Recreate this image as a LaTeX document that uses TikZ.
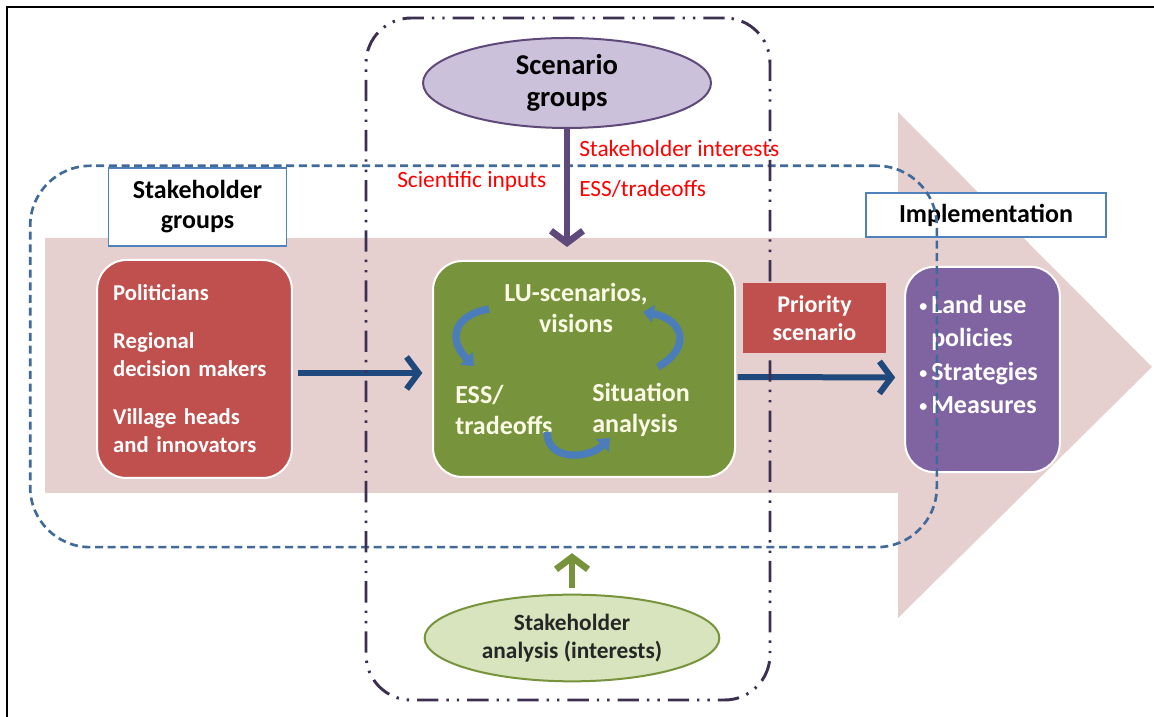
\documentclass[tikz,border=0pt]{standalone}
\usepackage{fontspec}
\setmainfont{Carlito}
\usetikzlibrary{arrows.meta,shapes.geometric,positioning}

\definecolor{redbox}{HTML}{C0504D}
\definecolor{greenbox}{HTML}{77933C}
\definecolor{purplebox}{HTML}{8064A2}
\definecolor{scenfill}{HTML}{CCC1DA}
\definecolor{scendraw}{HTML}{5F497A}
\definecolor{stafill}{HTML}{D7E4BD}
\definecolor{darkblue}{HTML}{1F497D}
\definecolor{cycblue}{HTML}{4A7DBA}
\definecolor{headblue}{HTML}{4F81BD}
\definecolor{dashblue}{HTML}{416A9A}
\definecolor{dotpurple}{HTML}{3C2F50}
\definecolor{pinkbg}{HTML}{E6CFCF}
\definecolor{creamtext}{HTML}{FAFAE6}

\newcommand{\bul}{\makebox[9pt][l]{\raisebox{1.5pt}{\fontsize{12}{12}\selectfont\textbullet}}}

\begin{document}
\begin{tikzpicture}[x=0.75pt, y=0.75pt,
  box/.style={rectangle, rounded corners=22pt, draw=white, line width=1.5pt, outer sep=0pt},
  head/.style={rectangle, draw=headblue, fill=white, line width=0.9pt, align=center,
    font=\bfseries\fontsize{19.5}{22.5}\selectfont},
  oval/.style={ellipse, line width=1.5pt, inner sep=0pt, align=center, outer sep=0pt},
  gtext/.style={inner sep=0pt, text=creamtext, font=\bfseries\fontsize{19.5}{23}\selectfont},
  note/.style={inner sep=0pt, anchor=base west, text=red, font=\fontsize{17.5}{20}\selectfont},
  flow/.style={draw=darkblue, line width=4.5pt, -{Straight Barb[length=9pt,width=24pt]}},
  cyc/.style={draw=cycblue, line width=5.5pt, -{Triangle[length=8pt,width=13pt]}},
  dashbox/.style={rectangle, rounded corners=45pt, draw=dashblue, line width=2pt,
    dash pattern=on 6pt off 3.5pt},
  dotbox/.style={rectangle, rounded corners=34pt, draw=dotpurple, line width=2.2pt,
    dash pattern=on 16pt off 6pt on 1.8pt off 6pt on 1.8pt off 6pt}
  ]
  \useasboundingbox (0,0) rectangle (1154,717);
  \draw[line width=1.5pt] (7,0) -- (7,710) -- (1154,710);

  \fill[pinkbg] (45,479) -- (898,479) -- (898,605) -- (1152,350)
    -- (898,99) -- (898,224) -- (45,224) -- cycle;

  \node[box, fill=redbox, minimum width=146pt, minimum height=163.5pt, text width=122pt,
    align=left, text=white, font=\bfseries\fontsize{17}{21}\selectfont] (pol) at (194.5,348)
    {Politicians\\[15pt]Regional\\decision makers\\[15pt]Village heads\\and innovators};
  \node[box, fill=greenbox, minimum width=226.5pt, minimum height=162pt] (green) at (584,348) {};
  \node[gtext, align=center] (lu) at (576,409) {LU-scenarios,\\visions};
  \node[gtext, align=left, anchor=west] (ess) at (455,307) {ESS/\\tradeoffs};
  \node[gtext, align=left, anchor=west] (sit) at (592,307) {Situation\\analysis};
  \node[box, fill=purplebox, minimum width=116pt, minimum height=154pt] (impl) at (982.5,347.5) {};
  \node[inner sep=0pt, anchor=north west, align=left, text=white,
    font=\bfseries\fontsize{19.5}{25}\selectfont] (measures) at (919,422)
    {\bul Land use\\\hspace*{9pt}policies\\\bul Strategies\\\bul Measures};
  \node[head, minimum width=180pt, minimum height=33pt] (implhead) at (986,502) {Implementation};
  \node[head, minimum width=134pt, minimum height=58.5pt] (stakehead) at (197.5,510) {Stakeholder\\groups};

  \node[oval, fill=scenfill, draw=scendraw, minimum width=216pt, minimum height=67.5pt,
    font=\bfseries\fontsize{21.5}{24}\selectfont] (scen) at (567,634) {Scenario\\groups};
  \node[oval, fill=stafill, draw=greenbox, minimum width=221pt, minimum height=65pt,
    text=black!85, font=\bfseries\fontsize{17.5}{21}\selectfont] (sta) at (572,79)
    {Stakeholder\\analysis (interests)};

  \node[note] (interests) at (579,560) {Stakeholder interests};
  \node[note] (tradeoffs) at (579,520) {ESS/tradeoffs};
  \node[note] (inputs) at (397,529) {Scientific inputs};

  \node[dashbox, minimum width=680pt, minimum height=286pt] (stake) at (483.5,360.5) {};

  \coordinate (c1) at (489,408);
  \coordinate (c2) at (474,351);
  \coordinate (c3) at (547,285);
  \coordinate (c4) at (610,279);
  \coordinate (c5) at (658,350);
  \coordinate (c6) at (643,405);
  \draw[cyc] (c1) to[out=190, in=135, looseness=1.6] (c2);
  \draw[cyc] (c3) to[out=-90, in=225, looseness=1.2] (c4);
  \draw[cyc] (c5) to[out=30, in=-10, looseness=1.8] (c6);

  \draw[flow, shorten <=4.5pt, shorten >=8pt] ([yshift=-3pt]pol.east) -- ([yshift=-3pt]green.west);
  \draw[flow, shorten <=2pt, shorten >=7.5pt] ([yshift=-6pt]green.east) -- ([yshift=-6pt]impl.west);
  \draw[flow, draw=scendraw, line width=5pt, shorten >=10.5pt] (scen.south) -- (scen.south |- green.north);
  \draw[flow, draw=greenbox, line width=5pt, shorten <=5pt, shorten >=3.5pt] (sta.north) -- (sta.north |- stake.south);

  \node[dotbox, minimum width=303pt, minimum height=511.5pt] (scenbox) at (568,358) {};

  \node[fill=redbox, minimum width=107pt, minimum height=52.5pt, align=center, text=white,
    font=\bfseries\fontsize{18}{21}\selectfont] (prio) at (814.5,399) {Priority\\scenario};
\end{tikzpicture}
\end{document}
